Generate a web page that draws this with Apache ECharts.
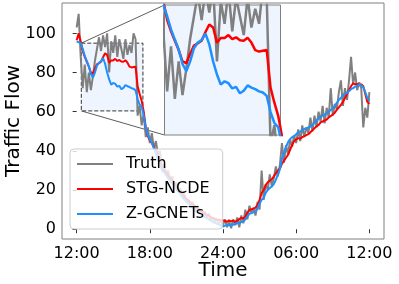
<!DOCTYPE html>
<html><head><meta charset="utf-8">
<script src="https://cdn.jsdelivr.net/npm/echarts@6/dist/echarts.min.js"></script>
<style>html,body{margin:0;padding:0;background:#fff}#c{width:399px;height:284px}</style>
</head><body><div id="c"></div>
<script>
// time in minutes since 12:00
const minutes = [0,10,20,30,40,50,60,70,80,90,100,110,120,130,140,150,160,170,180,190,200,210,220,230,240,250,260,270,280,290,300,310,320,330,340,350,360,370,380,390,400,410,420,430,440,450,460,470,480,490,500,510,520,530,540,550,560,570,580,590,600,610,620,630,640,650,660,670,680,690,700,710,720,730,740,750,760,770,780,790,800,810,820,830,840,850,860,870,880,890,900,910,920,930,940,950,960,970,980,990,1000,1010,1020,1030,1040,1050,1060,1070,1080,1090,1100,1110,1120,1130,1140,1150,1160,1170,1180,1190,1200,1210,1220,1230,1240,1250,1260,1270,1280,1290,1300,1310,1320,1330,1340,1350,1360,1370,1380,1390,1400,1410,1420,1430,1440];
const truth = [103,110,88,72,84,70,80,71,78,86,
  92,98,91,99,93,100,80,96,90,99,
  88,97,92,87,97,89,94,90,100,97,
  58,63,53,59,47,52,44,49,41,45,
  38,40,31,33,28,30,25,27,22,24,
  19,21,16,18,14,15,12,14,10,12,
  8,10,7,9,6,8,5,6,4,5,
  3,4,2,5,1,4,0.5,5,2,6,
  1,7,3,10,5,12,8,11,7,14,
  10,30,15,23,20,28,22,26,32,27,
  33,44,34,43,38,46,42,48,44,51,
  45,53,47,52,49,57,50,58,52,60,
  55,63,54,62,57,72,58,64,61,70,
  76,63,72,66,76,88,74,80,71,75,
  72,52,62,57,70];
const stgNcde = [96.5,100,96,91,88,85.5,83,80,79.5,82,
  84.2,84.8,85.5,87.8,89.8,89,85,86.2,86.2,87,
  85.9,86.4,85.6,85.5,86.3,85,83,82.6,82.8,83,
  73,69,65.5,60,52,47.5,45.5,44,42,40,
  37.5,34,31,30,29,27.5,26,25,23.5,22,
  20.5,19.5,18,16.5,15.5,14.5,13.5,12.8,12,11,
  10.3,9.6,9,8,7.3,6.8,6.2,5.7,5.3,5,
  4.8,4.6,4.4,4.2,3.8,4.5,4,4.4,3.8,4.3,
  5.2,5.8,5.5,6.5,8.5,9.8,10.2,10.5,11,12.5,
  15,18.5,20,22.5,24,24.8,25.5,27,28.5,30,
  31,33.5,35,36.5,38,40.5,43,45,45.8,46.5,
  46.2,47,47.5,48,48.5,49.5,50.5,51.5,52.5,53.2,
  54.5,55,55.5,56,57,57.8,58.5,59.5,61,62.2,
  63.5,65,67,69,71,73,74.5,74,74.2,73.5,
  74,73,69,65,64];
const zGcnets = [95.8,95.5,95,92,88.5,85.8,83.2,79.3,77.4,80,
  83.5,85,85.7,87.4,84.5,80,76.5,73.8,74.7,74.2,
  72.8,73.2,71.5,72.2,73.6,73,72.6,72,71.7,70.8,
  66.5,63.6,62.5,58,52,48,46,44,41.5,39,
  35.5,33,30,29,27.5,26,24.5,23.5,22,20.5,
  19,18,16.5,15,14,13,12,11,10,9.2,
  8.4,7.6,7,6.3,5.6,5,4.4,3.8,3.3,2.8,
  2.4,2,1.4,1.8,2.2,2,2.5,2.2,2.7,3,
  3.2,3.6,3.9,5,6.5,7.8,8.2,8.6,9,10.5,
  13,15,16,18.5,20,21,21.8,23,25.2,28,
  30.5,36,39,42,44.5,46,47,47.5,48.5,49.5,
  49.8,50.5,51.2,51.6,52,52.4,53.2,54.5,55.5,56.5,
  57.5,58,58.5,59.2,60,61,61.8,63,64.5,66,
  67,68.5,69.2,69.5,70.5,71.5,72,72.8,73.2,73.7,
  73.5,72.5,70,67,65.5];
const seriesNames = ['Truth','STG-NCDE','Z-GCNETs'];
const xTicks = [0,360,720,1080,1440];
const xTickLabels = ['12:00','18:00','24:00','06:00','12:00'];
const yTicks = [0,20,40,60,80,100];
const insetX = [23,326];
const insetY = [60.4,95];

const FONT = 'DejaVu Sans';
const colors = ['#808080','#ff0000','#1e90ff'];
const pairs = arr => minutes.map((m,i)=>[m,arr[i]]);
const dataSets = [truth, stgNcde, zGcnets];

const chart = echarts.init(document.getElementById('c'), null, {renderer:'canvas'});
const series = [];
[0,1].forEach(g=>{
  dataSets.forEach((d,i)=>{
    series.push({type:'line', name:seriesNames[i], data:pairs(d), xAxisIndex:g, yAxisIndex:g,
      showSymbol:false, symbol:'none', clip:true, silent:true, z: g===0?2:5,
      lineStyle:{color:colors[i], width: g===0?2:2.5}, itemStyle:{color:colors[i]}});
  });
});
const option = {
  animation:false,
  grid:[
    {left:62, top:3, right:15, bottom:45, show:true, borderColor:'#808080', borderWidth:1, backgroundColor:'transparent', outerBoundsMode:'none', containLabel:false},
    {left:164.5, top:5, width:116, height:130, show:true, borderColor:'#808080', borderWidth:1, backgroundColor:'#eef5fe', z:3, outerBoundsMode:'none', containLabel:false}
  ],
  xAxis:[
    {type:'value', gridIndex:0, min:-72, max:1512, name:'Time', nameLocation:'middle', nameGap:22, nameMoveOverlap:false,
     nameTextStyle:{fontFamily:FONT, fontSize:20, color:'#000'},
     axisLine:{show:false}, splitLine:{show:false},
     axisTick:{show:true, customValues:xTicks, length:4, lineStyle:{color:'#333'}},
     axisLabel:{customValues:xTicks, formatter:v=>xTickLabels[xTicks.indexOf(v)], fontFamily:FONT, fontSize:16, color:'#000', margin:7}},
    {type:'value', gridIndex:1, min:insetX[0], max:insetX[1], show:false}
  ],
  yAxis:[
    {type:'value', gridIndex:0, min:-5, max:115.5, name:'Traffic Flow', nameLocation:'middle', nameGap:38, nameRotate:90, nameMoveOverlap:false,
     nameTextStyle:{fontFamily:FONT, fontSize:20, color:'#000'},
     axisLine:{show:false}, splitLine:{show:false},
     axisTick:{show:true, customValues:yTicks, length:4, lineStyle:{color:'#333'}},
     axisLabel:{customValues:yTicks, fontFamily:FONT, fontSize:16, color:'#000', margin:6}},
    {type:'value', gridIndex:1, min:insetY[0], max:insetY[1], show:false}
  ],
  legend:{orient:'vertical', left:70, top:149, itemWidth:36, itemHeight:2, icon:'rect', itemGap:9,
    padding:[7,13,7,7], backgroundColor:'rgba(255,255,255,0.8)', borderColor:'#cccccc', borderWidth:1, borderRadius:4,
    textStyle:{fontFamily:FONT, fontSize:16, color:'#000', lineHeight:16, padding:[0,0,0,8]},
    data:seriesNames, selectedMode:false},
  series:series
};
chart.setOption(option);
const tl = chart.convertToPixel({xAxisIndex:0, yAxisIndex:0}, [insetX[0], insetY[1]]);
const br = chart.convertToPixel({xAxisIndex:0, yAxisIndex:0}, [insetX[1], insetY[0]]);
const itl = chart.convertToPixel({xAxisIndex:1, yAxisIndex:1}, [insetX[0], insetY[1]]);
const ibl = chart.convertToPixel({xAxisIndex:1, yAxisIndex:1}, [insetX[0], insetY[0]]);
chart.setOption({graphic:{elements:[
  {type:'rect', z:1, silent:true, shape:{x:tl[0], y:tl[1], width:br[0]-tl[0], height:br[1]-tl[1]},
   style:{fill:'#eef5fe', stroke:'#333', lineWidth:1, lineDash:[4,2]}},
  {type:'line', z:1, silent:true, shape:{x1:tl[0], y1:tl[1], x2:itl[0], y2:itl[1]}, style:{stroke:'#333', lineWidth:0.8}},
  {type:'line', z:1, silent:true, shape:{x1:tl[0], y1:br[1], x2:ibl[0], y2:ibl[1]}, style:{stroke:'#333', lineWidth:0.8}}
]}});
</script></body></html>
